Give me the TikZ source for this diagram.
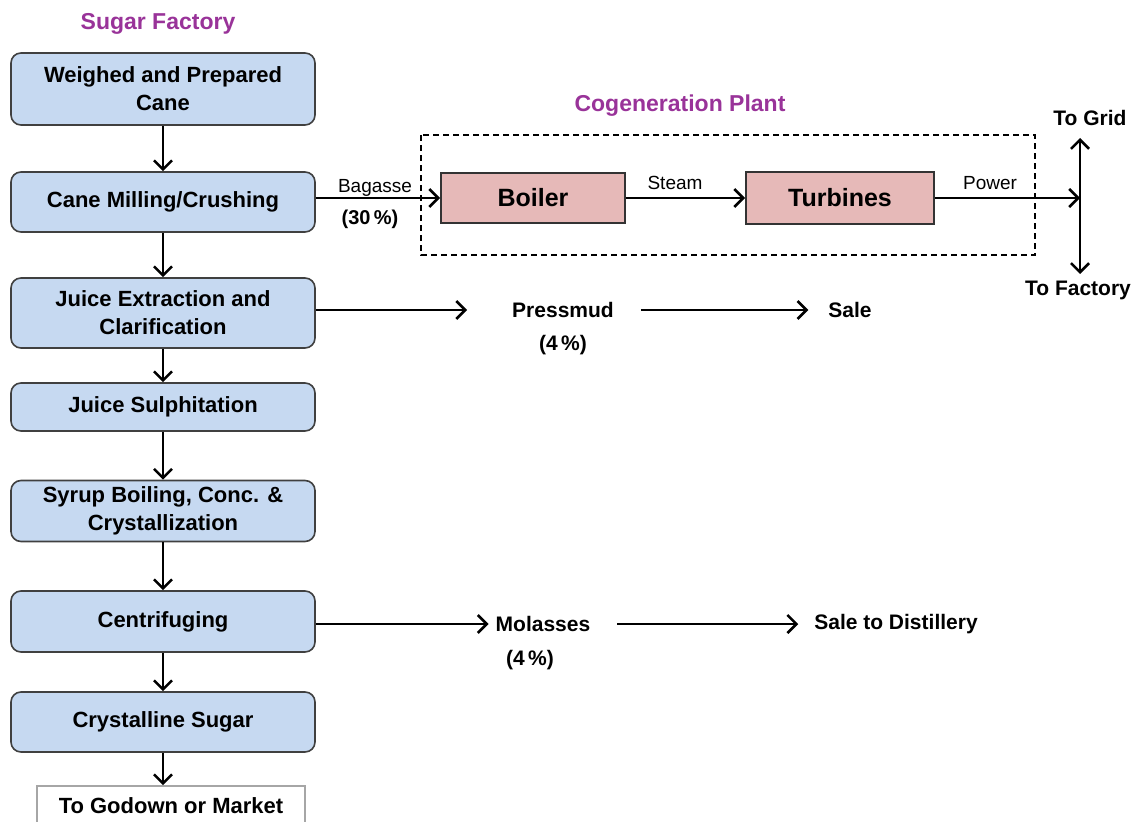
\documentclass[tikz,border=0pt]{standalone}
\usepackage{fontspec}
\setmainfont{Liberation Sans}
\usetikzlibrary{arrows.meta}
\definecolor{canefill}{HTML}{C6D9F1}
\definecolor{plantfill}{HTML}{E6B9B8}
\definecolor{headcol}{HTML}{993399}
\tikzset{
  stagebox/.style={draw=black!75,line width=0.8pt,fill=canefill,rounded corners=5pt,
    minimum width=152pt,align=center,inner sep=1pt,
    font=\bfseries\fontsize{11}{14}\selectfont},
  plantbox/.style={draw=black!80,line width=0.9pt,fill=plantfill,
    font=\bfseries\fontsize{12.5}{15}\selectfont},
  flow/.style={line width=1.3pt,-{Straight Barb[length=4.5pt,width=9pt,line width=1.3pt]}},
  product/.style={font=\bfseries\fontsize{10.5}{12}\selectfont},
  small/.style={font=\fontsize{9.5}{11}\selectfont,inner sep=1pt},
  heading/.style={text=headcol,font=\bfseries\fontsize{11.5}{13}\selectfont}
}
\begin{document}
\begin{tikzpicture}[x=0.5pt,y=-0.5pt]
  \useasboundingbox (0,0) rectangle (1143,822);
  \clip (0,0) rectangle (1143,822);
  % Sugar factory
  \node[heading] (factory) at (158,24) {Sugar Factory};
  \node[stagebox,minimum height=36pt]   (weigh)  at (163,89)    {Weighed and Prepared\\Cane};
  \node[stagebox,minimum height=30pt]   (mill)   at (163,202)   {Cane Milling/Crushing};
  \node[stagebox,minimum height=35pt]   (juice)  at (163,313)   {Juice Extraction and\\Clarification};
  \node[stagebox,minimum height=24pt]   (sulph)  at (163,407)   {Juice Sulphitation};
  \node[stagebox,minimum height=30.5pt] (syrup)  at (163,511)   {Syrup Boiling, Conc. \&\\Crystallization};
  \node[stagebox,minimum height=30.5pt] (centri) at (163,621.5) {Centrifuging};
  \node[stagebox,minimum height=30pt]   (sugar)  at (163,722)   {Crystalline Sugar};
  \node[draw=black!35,line width=0.8pt,fill=white,minimum width=134pt,minimum height=20pt,
        font=\bfseries\fontsize{11}{13}\selectfont] (godown) at (171,806) {To Godown or Market};
  \foreach \a/\b in {weigh/mill,mill/juice,juice/sulph,sulph/syrup,syrup/centri,centri/sugar,sugar/godown}
    \draw[flow] (\a.south) -- (\a.south |- \b.north);
  % Cogeneration plant
  \node[heading] (cogen) at (680,106) {Cogeneration Plant};
  \draw[dash pattern=on 3pt off 2pt,line width=0.6pt] (421,135) rectangle (1035,255);
  \node[plantbox,minimum width=92pt,minimum height=25pt] (boiler)   at (533,198) {Boiler};
  \node[plantbox,minimum width=94pt,minimum height=26pt] (turbines) at (840,198) {Turbines};
  \coordinate (split) at (1080,198);
  \coordinate (gridend) at (1080,138);
  \coordinate (factoryend) at (1080,274);
  \draw[flow] (mill.east |- boiler) -- (boiler.west);
  \node[small] (bagasse) at (375,188) {Bagasse};
  \node[product,font=\bfseries\fontsize{10}{12}\selectfont] (bagpct) at (370,219) {(30\,\%)};
  \draw[flow] (boiler.east) -- (turbines.west);
  \node[small] (steam) at (675,183) {Steam};
  \draw[flow] (turbines.east) -- (split);
  \node[small] (power) at (990,183) {Power};
  \draw[flow] (split) -- (gridend);
  \draw[flow] (split) -- (factoryend);
  \node[product] (grid) at (1090,118) {To Grid};
  \node[product] (tofactory) at (1078,290) {To Factory};
  % By-products
  \node[product] (pressmud) at (563,310) {Pressmud};
  \node[product] (presspct) at (563,345) {(4\,\%)};
  \node[product] (sale) at (850,310) {Sale};
  \draw[flow] (juice.east |- pressmud) -- ([xshift=-19pt]pressmud.west);
  \draw[flow] ([xshift=10pt]pressmud.east) -- ([xshift=-6.5pt]sale.west);
  \node[product] (molasses) at (543,624) {Molasses};
  \node[product] (molpct) at (530,660) {(4\,\%)};
  \node[product] (distill) at (896,624) {Sale to Distillery};
  \draw[flow] (centri.east |- molasses) -- (molasses.west);
  \draw[flow] ([xshift=10pt]molasses.east) -- ([xshift=-4.5pt]distill.west);
\end{tikzpicture}
\end{document}
